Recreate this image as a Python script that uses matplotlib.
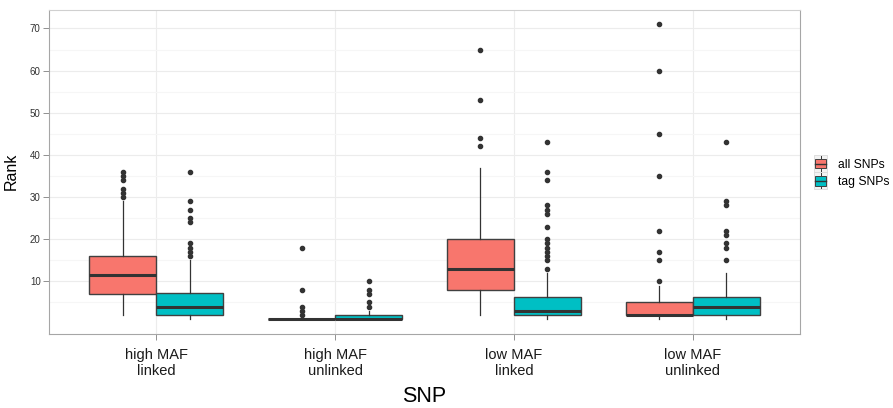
import matplotlib
matplotlib.use("Agg")
import matplotlib.pyplot as plt
from matplotlib.patches import Rectangle
from matplotlib.lines import Line2D
from matplotlib.legend_handler import HandlerBase
from matplotlib.ticker import FixedLocator

plt.rcParams['font.family'] = ['Liberation Sans', 'DejaVu Sans']

# Categories and groups
categories = ["high MAF\nlinked", "high MAF\nunlinked", "low MAF\nlinked", "low MAF\nunlinked"]
groups = ["all SNPs", "tag SNPs"]
colors = ["#F8766D", "#00BFC4"]

# Box statistics per group, one value per category
all_q1 = [7, 1, 8, 2]
all_med = [11.5, 1, 13, 2]
all_q3 = [16, 1, 20, 5]
all_lo = [2, 1, 2, 1]
all_hi = [29, 1, 37, 9]
all_out = [
    [30, 31, 32, 34, 35, 36],
    [2, 3, 4, 8, 18],
    [42, 44, 53, 65],
    [10, 15, 17, 22, 35, 45, 60, 71],
]

tag_q1 = [2, 1, 2, 2]
tag_med = [4, 1, 3, 4]
tag_q3 = [7.25, 2, 6.25, 6.25]
tag_lo = [1, 1, 1, 1]
tag_hi = [15, 3, 12, 12]
tag_out = [
    [16, 17, 18, 19, 24, 25, 27, 29, 36],
    [4, 5, 7, 8, 10],
    [13, 15, 16, 17, 18, 19, 20, 23, 26, 27, 28, 34, 36, 43],
    [15, 18, 19, 21, 22, 28, 29, 43],
]

y_ticks = [10, 20, 30, 40, 50, 60, 70]

edge = "#404040"

fig = plt.figure(figsize=(8.93, 4.08), dpi=100)
ax = fig.add_axes([0.0549, 0.1814, 0.8410, 0.7953])


def make_stats(q1, med, q3, lo, hi, out):
    return [dict(q1=a, med=b, q3=c, whislo=d, whishi=e, fliers=f)
            for a, b, c, d, e, f in zip(q1, med, q3, lo, hi, out)]


dodge = 0.1875
width = 0.375
series = [
    make_stats(all_q1, all_med, all_q3, all_lo, all_hi, all_out),
    make_stats(tag_q1, tag_med, tag_q3, tag_lo, tag_hi, tag_out),
]
for k, (stats, col) in enumerate(zip(series, colors)):
    pos = [i + 1 + (k * 2 - 1) * dodge for i in range(len(categories))]
    ax.bxp(stats, positions=pos, widths=width, patch_artist=True,
           showcaps=False, manage_ticks=False,
           boxprops=dict(facecolor=col, edgecolor=edge, linewidth=1.0),
           medianprops=dict(color="#333333", linewidth=2.2),
           whiskerprops=dict(color="#333333", linewidth=0.9),
           flierprops=dict(marker="o", markersize=3.0, markerfacecolor="#333333",
                           markeredgecolor="#333333", linestyle="none"),
           zorder=3)

ax.set_xlim(0.4, 4.6)
ax.set_ylim(-2.5, 74.5)
ax.set_xticks(range(1, len(categories) + 1))
ax.set_xticklabels(categories, fontsize=10.5, color="#1a1a1a", linespacing=1.15)
ax.yaxis.set_major_locator(FixedLocator(y_ticks))
ax.yaxis.set_minor_locator(FixedLocator([5, 15, 25, 35, 45, 55, 65]))
ax.tick_params(axis="y", which="major", labelsize=7, colors="#7f7f7f",
               labelcolor="#333333", length=4, width=0.6, pad=2)
ax.tick_params(axis="y", which="minor", length=0)
ax.tick_params(axis="x", which="major", colors="#7f7f7f", labelcolor="#1a1a1a",
               length=4, width=0.6, pad=6)

ax.grid(True, which="major", color="#ececec", linewidth=0.8, zorder=0)
ax.grid(True, which="minor", axis="y", color="#f6f6f6", linewidth=0.8, zorder=0)
ax.set_axisbelow(True)

for side, sp in ax.spines.items():
    sp.set_color("#a6a6a6")
    sp.set_linewidth(0.8)
ax.spines["top"].set_color("#d0d0d0")

ax.set_xlabel("SNP", fontsize=15.5, labelpad=6, color="#000000")
ax.set_ylabel("Rank", fontsize=11.5, labelpad=8, color="#000000")


class BoxKeyHandler(HandlerBase):
    def create_artists(self, legend, orig_handle, xdescent, ydescent,
                       width, height, fontsize, trans):
        cx = width / 2 - xdescent
        artists = []
        bg = Rectangle((-xdescent, -ydescent), width, height, facecolor="#f2f2f2",
                       edgecolor="#d9d9d9", linewidth=0.6, transform=trans)
        artists.append(bg)
        wl = Line2D([cx, cx], [-ydescent + 0.05 * height, -ydescent + 0.95 * height],
                    color="#333333", linewidth=0.7, transform=trans)
        artists.append(wl)
        bw = width * 0.78
        box = Rectangle((cx - bw / 2, -ydescent + 0.22 * height), bw, 0.56 * height,
                        facecolor=orig_handle.get_facecolor(), edgecolor="#404040",
                        linewidth=0.7, transform=trans)
        artists.append(box)
        ml = Line2D([cx - bw / 2, cx + bw / 2], [-ydescent + 0.5 * height] * 2,
                    color="#333333", linewidth=1.0, transform=trans)
        artists.append(ml)
        return artists


handles = [Rectangle((0, 0), 1, 1, facecolor=c) for c in colors]
leg = fig.legend(handles, groups, loc="center left", bbox_to_anchor=(0.906, 0.578),
                 frameon=False, fontsize=8.7, handlelength=1.1, handleheight=1.8,
                 handletextpad=0.9, labelspacing=0.0, borderaxespad=0,
                 handler_map={Rectangle: BoxKeyHandler()})

fig.savefig("out.png", dpi=100, facecolor="white")
